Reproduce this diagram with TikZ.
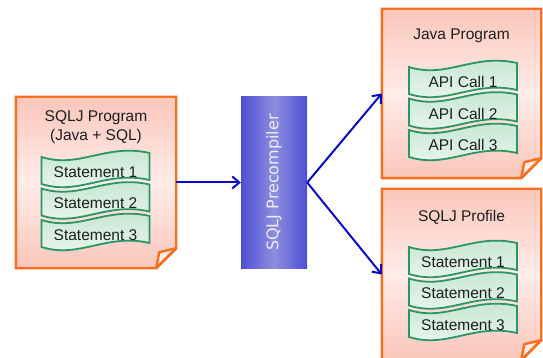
\documentclass[tikz,border=0pt]{standalone}
\usepackage{fontspec}
\setmainfont{Liberation Sans}
\newfontfamily\boxfont{DejaVu Sans}
\usetikzlibrary{arrows.meta}

\definecolor{docedge}{RGB}{250,110,30}
\definecolor{docpink}{RGB}{250,198,186}
\definecolor{doclight}{RGB}{255,236,233}
\definecolor{flapfill}{RGB}{255,234,230}
\definecolor{bandedge}{RGB}{42,150,98}
\definecolor{bandtop}{RGB}{194,229,207}
\definecolor{bandbot}{RGB}{236,247,240}
\definecolor{ink}{RGB}{30,30,30}
\definecolor{flowblue}{RGB}{10,10,200}
\definecolor{boxedge}{RGB}{78,78,214}
\definecolor{boxmid}{RGB}{142,142,222}
\definecolor{boxtext}{RGB}{236,236,250}

\tikzset{
  docframe/.style={draw=docedge, line width=2.4pt, top color=docpink,
    bottom color=docpink, middle color=doclight},
  flap/.style={draw=docedge, line width=2.4pt, fill=flapfill, line join=round},
  sheet/.style={inner sep=0pt, minimum width=#1},
  sheet/.default=160pt,
  bannerline/.style={draw=bandedge, line width=1.8pt, top color=bandtop,
    bottom color=bandbot},
  caption/.style={font=\fontsize{15.5}{19}\selectfont, text=ink, align=center},
  flow/.style={draw=flowblue, line width=2pt,
    -{Straight Barb[length=7pt,width=12pt]}},
  precomp/.style={inner sep=0pt, minimum width=66pt, minimum height=171pt,
    left color=boxedge, right color=boxedge, middle color=boxmid},
  wavebanner/.pic={
    \path[bannerline] (-54,-15) .. controls (-16.2,-3) and (10.8,-29) .. (54,-19)
      -- (54,8) .. controls (10.8,-2) and (-16.2,24) .. (-54,12) -- cycle;
    \node[caption] (-t) at (0,0) {#1};
  }
}

% paper sheet with a folded lower right corner
\newcommand\docsheet[1]{%
  \path[docframe] (#1.north west) -- (#1.north east) -- ([yshift=20pt]#1.south east)
    -- ([xshift=-20pt]#1.south east) -- (#1.south west) -- cycle;
  \path[flap] ([yshift=20pt]#1.south east) -- ([xshift=-17pt,yshift=16pt]#1.south east)
    -- ([xshift=-20pt]#1.south east) -- cycle;
}

\begin{document}
\begin{tikzpicture}[x=1pt,y=-1pt]
\useasboundingbox (0,0) rectangle (543,358);
\clip (0,0) rectangle (543,358);

% source program
\node[sheet, minimum height=171pt] (src) at (96,182.5) {};
\docsheet{src}
\node[caption] (srctitle) at (96,127) {SQLJ Program\\(Java + SQL)};
\pic (s1) at (95.5,172) {wavebanner=Statement 1};
\pic (s2) at (95.5,203.5) {wavebanner=Statement 2};
\pic (s3) at (95.5,235) {wavebanner=Statement 3};

% generated Java program
\node[sheet=159pt, minimum height=169pt] (java) at (461.5,93.5) {};
\docsheet{java}
\node[caption] (javatitle) at (461.5,36) {Java Program};
\pic (j1) at (463,82) {wavebanner=API Call 1};
\pic (j2) at (463,113.5) {wavebanner=API Call 2};
\pic (j3) at (463,145) {wavebanner=API Call 3};

% generated profile
\node[sheet=159pt, minimum height=171pt] (prof) at (461.5,274.5) {};
\docsheet{prof}
\node[caption] (proftitle) at (461.5,217) {SQLJ Profile};
\pic (p1) at (463,262) {wavebanner=Statement 1};
\pic (p2) at (463,293.5) {wavebanner=Statement 2};
\pic (p3) at (463,325) {wavebanner=Statement 3};

% precompiler
\node[precomp] (pre) at (274,182.5) {};
\node[rotate=90, text=boxtext, font=\boxfont\fontsize{16}{19}\selectfont]
  (pretext) at (pre.center) {SQLJ Precompiler};

% flow
\draw[flow] (src.east) -- (pre.west);
\draw[flow] (pre.east) -- (java.west);
\draw[flow] (pre.east) -- (prof.west);
\end{tikzpicture}
\end{document}
